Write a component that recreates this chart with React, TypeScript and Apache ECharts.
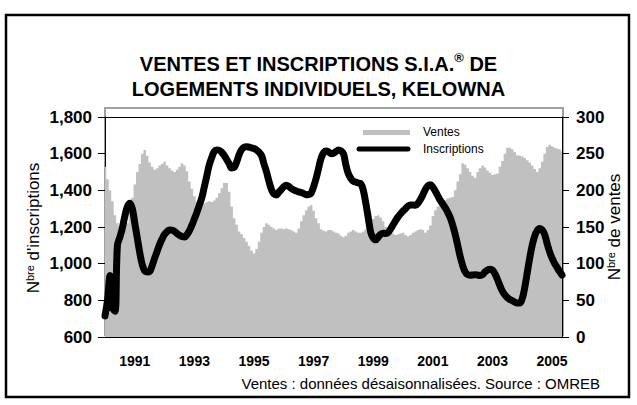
import React, { useEffect, useRef } from 'react';
import * as echarts from 'echarts';

const START_YEAR = 1990;
const MONTH_COUNT = 185; // Jan 1990 .. May 2005

const months: string[] = Array.from({ length: MONTH_COUNT }, (_, i) => {
  const y = START_YEAR + Math.floor(i / 12);
  const m = (i % 12) + 1;
  return `${y}-${m < 10 ? '0' + m : m}`;
});

const yearLabels = ['1991', '1993', '1995', '1997', '1999', '2001', '2003', '2005'];

// Ventes (seasonally adjusted monthly sales, right axis)
const sales = [
  232, 215, 200, 185, 166, 155, 150, 147, 148, 155,
  170, 190, 208, 225, 236, 250, 255, 247, 238, 232,
  228, 230, 234, 236, 239, 234, 230, 227, 225, 228,
  232, 237, 234, 226, 212, 202, 192, 184, 182, 180,
  182, 184, 185, 184, 186, 190, 196, 203, 210, 210,
  198, 178, 162, 153, 144, 140, 135, 130, 124, 118,
  114, 120, 130, 142, 150, 155, 153, 150, 148, 146,
  148, 148, 147, 148, 147, 146, 144, 142, 148, 158,
  166, 173, 178, 180, 172, 162, 155, 147, 145, 144,
  146, 146, 144, 142, 141, 138, 136, 138, 142, 144,
  146, 144, 142, 142, 144, 147, 152, 157, 161, 165,
  166, 163, 158, 150, 146, 142, 141, 139, 140, 141,
  142, 139, 137, 139, 142, 144, 146, 147, 146, 142,
  146, 152, 165, 173, 178, 182, 185, 187, 189, 190,
  191, 200, 212, 222, 237, 235, 230, 225, 220, 217,
  225, 230, 234, 231, 227, 224, 221, 222, 223, 232,
  240, 250, 258, 258, 256, 252, 248, 247, 246, 244,
  241, 238, 234, 229, 225, 230, 239, 250, 259, 262,
  260, 258, 257, 256, 253,
];

// Inscriptions (listings, left axis)
const listings = [
  715, 800, 935, 760, 740, 1100, 1145, 1195, 1260, 1310,
  1330, 1300, 1220, 1140, 1060, 995, 960, 955, 958, 990,
  1030, 1068, 1105, 1135, 1160, 1175, 1184, 1183, 1176, 1165,
  1155, 1148, 1145, 1158, 1180, 1210, 1245, 1280, 1320, 1360,
  1420, 1480, 1540, 1580, 1612, 1620, 1618, 1608, 1590, 1568,
  1545, 1522, 1525, 1555, 1595, 1622, 1635, 1638, 1636, 1632,
  1628, 1620, 1608, 1590, 1545, 1502, 1450, 1405, 1380, 1375,
  1390, 1405, 1420, 1428, 1422, 1410, 1402, 1396, 1392, 1388,
  1382, 1376, 1377, 1385, 1420, 1465, 1520, 1575, 1605, 1615,
  1610, 1600, 1602, 1612, 1620, 1615, 1600, 1538, 1490, 1465,
  1450, 1445, 1440, 1436, 1400, 1330, 1250, 1170, 1140, 1130,
  1145, 1160, 1166, 1164, 1170, 1190, 1212, 1235, 1255, 1272,
  1287, 1300, 1314, 1320, 1320, 1318, 1330, 1350, 1376, 1405,
  1425, 1430, 1418, 1395, 1370, 1345, 1325, 1305, 1280, 1250,
  1210, 1160, 1100, 1040, 990, 955, 940, 937, 938, 940,
  938, 936, 940, 955, 965, 970, 965, 945, 915, 880,
  850, 830, 815, 805, 798, 790, 785, 785, 810, 870,
  950, 1030, 1100, 1150, 1180, 1192, 1185, 1160, 1110, 1065,
  1030, 1002, 980, 958, 938,
];

const leftTicks = { min: 600, max: 1800, interval: 200 };
const rightTicks = { min: 0, max: 300, interval: 50 };

const FONT = '"Liberation Sans", Arial, sans-serif';

export default function App() {
  const ref = useRef<HTMLDivElement>(null);

  useEffect(() => {
    if (!ref.current) return;
    const chart = echarts.init(ref.current, undefined, { renderer: 'svg' });
    const G = { left: 105, right: 75, top: 117, bottom: 68 };
    const W = 637, H = 405;
    const plotR = W - G.right;
    const plotB = H - G.bottom;

    chart.setOption({
      animation: false,
      backgroundColor: '#ffffff',
      title: {
        text: 'VENTES ET INSCRIPTIONS S.I.A.{sup|®} DE\nLOGEMENTS INDIVIDUELS, KELOWNA',
        left: 'center',
        top: 51,
        padding: 0,
        textStyle: {
          fontFamily: FONT,
          fontWeight: 'bold',
          fontSize: 20,
          lineHeight: 25,
          color: '#000',
          rich: {
            sup: {
              fontFamily: FONT,
              fontWeight: 'bold',
              fontSize: 13,
              lineHeight: 13,
              verticalAlign: 'top',
              color: '#000',
            },
          },
        },
      },
      grid: { left: G.left, right: G.right, top: G.top, bottom: G.bottom, containLabel: false },
      xAxis: [
        {
          type: 'category',
          data: months,
          boundaryGap: false,
          axisLine: { show: true, lineStyle: { color: '#000', width: 1 } },
          axisTick: { show: false },
          splitLine: { show: false },
          axisLabel: {
            interval: (_i: number, v: string) => v.endsWith('-01') && yearLabels.includes(v.slice(0, 4)),
            formatter: (v: string) => v.slice(0, 4),
            fontFamily: FONT,
            fontWeight: 'bold',
            fontSize: 14,
            color: '#000',
            margin: 17,
          },
        },
        {
          type: 'category',
          data: months,
          boundaryGap: false,
          position: 'top',
          axisLine: { show: true, lineStyle: { color: '#000', width: 1 } },
          axisTick: { show: false },
          axisLabel: { show: false },
          splitLine: { show: false },
        },
      ],
      yAxis: [
        {
          type: 'value',
          position: 'left',
          min: leftTicks.min,
          max: leftTicks.max,
          interval: leftTicks.interval,
          axisLine: { show: true, lineStyle: { color: '#000', width: 1 } },
          axisTick: { show: true, length: 7, lineStyle: { color: '#000' } },
          splitLine: { show: false },
          axisLabel: {
            formatter: (v: number) => v.toLocaleString('en-US'),
            fontFamily: FONT,
            fontWeight: 'bold',
            fontSize: 17,
            color: '#000',
            margin: 13,
          },
        },
        {
          type: 'value',
          position: 'right',
          min: rightTicks.min,
          max: rightTicks.max,
          interval: rightTicks.interval,
          axisLine: { show: true, lineStyle: { color: '#000', width: 1 } },
          axisTick: { show: true, length: 7, lineStyle: { color: '#000' } },
          splitLine: { show: false },
          axisLabel: {
            fontFamily: FONT,
            fontWeight: 'bold',
            fontSize: 17,
            color: '#000',
            margin: 14,
          },
        },
      ],
      series: [
        {
          name: 'Ventes',
          type: 'line',
          xAxisIndex: 0,
          yAxisIndex: 1,
          data: sales,
          step: 'middle',
          symbol: 'none',
          lineStyle: { width: 0, color: '#c0c0c0' },
          areaStyle: { color: '#c0c0c0', opacity: 1 },
          z: 1,
        },
        {
          name: 'Inscriptions',
          type: 'line',
          xAxisIndex: 0,
          yAxisIndex: 0,
          data: listings,
          smooth: 0.4,
          symbol: 'none',
          lineStyle: { color: '#000', width: 7, cap: 'round', join: 'round' },
          z: 3,
        },
      ],
      graphic: [
        {
          type: 'rect',
          z: -1,
          shape: { x: 6, y: 15, width: 623, height: 382 },
          style: { fill: 'none', stroke: '#000', lineWidth: 2.5 },
        },
        {
          type: 'rect',
          z: 0,
          shape: { x: G.left, y: G.top - 9, width: plotR - G.left + 1, height: plotB - G.top + 7 },
          style: { fill: 'none', stroke: '#a0a0a0', lineWidth: 2 },
        },
        {
          type: 'rect',
          z: 10,
          shape: { x: 363, y: 130, width: 47, height: 5 },
          style: { fill: '#c0c0c0' },
        },
        {
          type: 'line',
          z: 10,
          shape: { x1: 359, y1: 149, x2: 408, y2: 149 },
          style: { stroke: '#000', lineWidth: 5, lineCap: 'round' },
        },
        {
          type: 'text',
          z: 10,
          x: 423,
          y: 132,
          style: { text: 'Ventes', fontFamily: FONT, fontSize: 12, fill: '#000', align: 'left', verticalAlign: 'middle' },
        },
        {
          type: 'text',
          z: 10,
          x: 423,
          y: 149,
          style: { text: 'Inscriptions', fontFamily: FONT, fontSize: 12, fill: '#000', align: 'left', verticalAlign: 'middle' },
        },
        {
          type: 'text',
          z: 10,
          x: 33,
          y: 228,
          rotation: Math.PI / 2,
          style: {
            text: "N{sup|bre} d'inscriptions",
            fontFamily: FONT,
            fontSize: 17,
            fill: '#000',
            align: 'center',
            verticalAlign: 'middle',
            rich: {
              sup: { fontFamily: FONT, fontSize: 11, lineHeight: 11, verticalAlign: 'top', fill: '#000' },
            },
          },
        },
        {
          type: 'text',
          z: 10,
          x: 614,
          y: 227,
          rotation: Math.PI / 2,
          style: {
            text: 'N{sup|bre} de ventes',
            fontFamily: FONT,
            fontSize: 17,
            fill: '#000',
            align: 'center',
            verticalAlign: 'middle',
            rich: {
              sup: { fontFamily: FONT, fontSize: 11, lineHeight: 11, verticalAlign: 'top', fill: '#000' },
            },
          },
        },
        {
          type: 'text',
          z: 10,
          x: 600,
          y: 383,
          style: {
            text: 'Ventes : données désaisonnalisées. Source : OMREB',
            fontFamily: FONT,
            fontSize: 15,
            fill: '#000',
            align: 'right',
            verticalAlign: 'middle',
          },
        },
      ],
    });

    return () => chart.dispose();
  }, []);

  return (
    <div
      ref={ref}
      style={{ position: 'absolute', left: 0, top: 0, width: 637, height: 405, background: '#fff' }}
    />
  );
}
